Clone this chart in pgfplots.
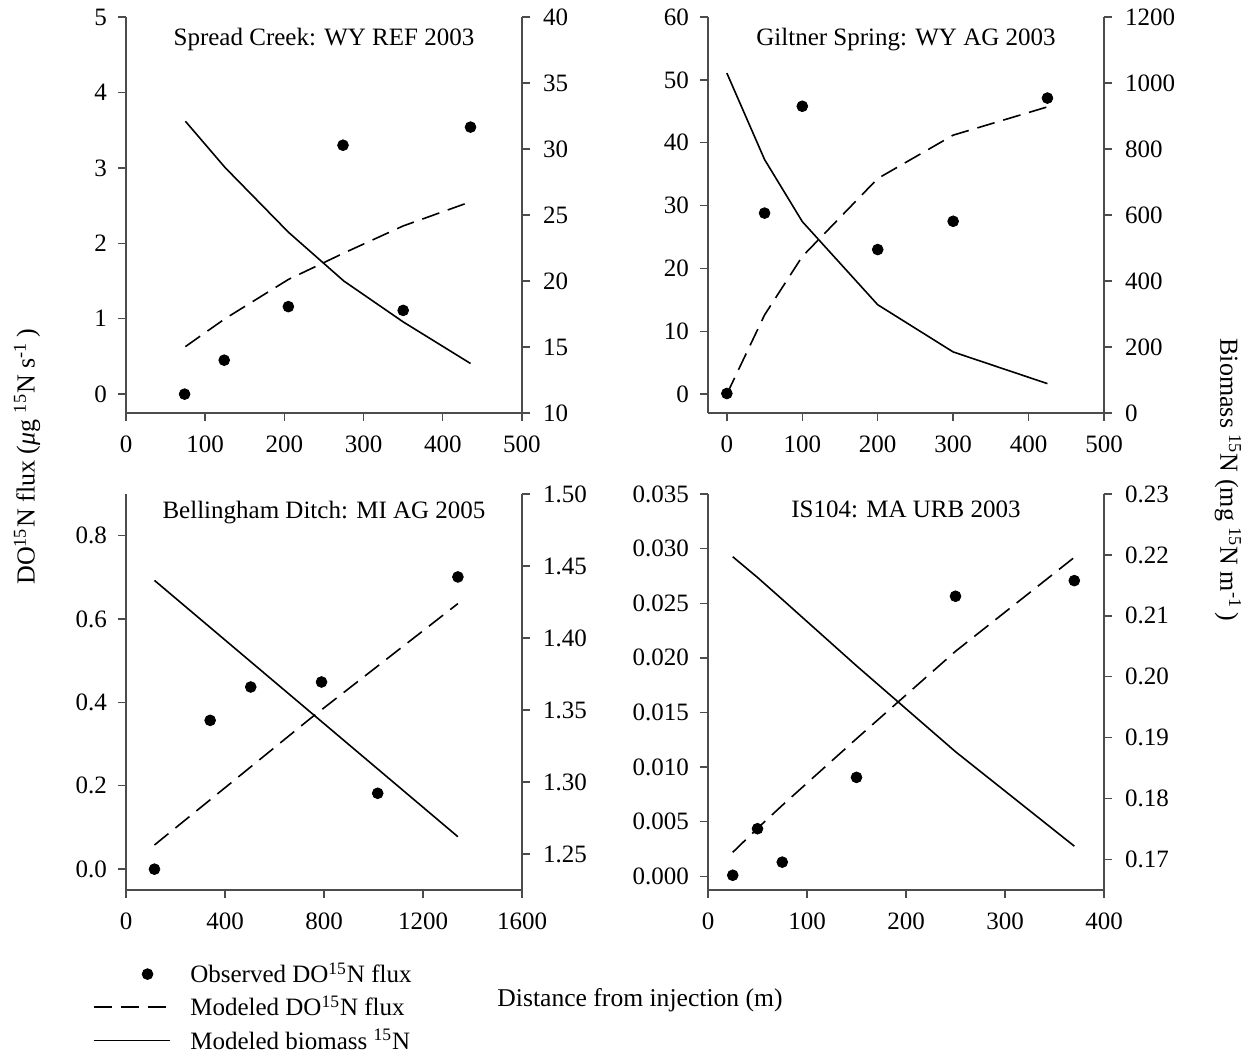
\documentclass[border=0pt]{standalone}
\usepackage{fontspec}
\setmainfont{Liberation Serif}
\usepackage{pgfplots}
\pgfplotsset{compat=1.18}
\definecolor{axgray}{gray}{0.3}
\newcommand\fs{\fontsize{12.5bp}{15bp}\selectfont}
\newcommand\fl{\fontsize{13bp}{16bp}\selectfont}
\pgfplotsset{
  base/.style={scale only axis, width=198bp, height=198bp, anchor=south west,
    tick align=outside, major tick length=4bp,
    tick style={axgray, line width=0.7bp},
    axis line style={axgray, line width=0.8bp},
    tick label style={font=\fs},
    /pgf/number format/assume math mode=true,
    /pgf/number format/1000 sep={},
    scaled ticks=false, clip=false,
    title style={at={(0.5,1)}, anchor=north, yshift=-8bp, font=\fs}},
  lax/.style={base, axis x line*=bottom, axis y line*=left,
    xticklabel style={yshift=-4bp}, yticklabel style={xshift=-2bp}},
  rax/.style={base, axis x line=none, axis y line*=right,
    yticklabel style={xshift=3bp}},
  obs/.style={only marks, mark=*, mark size=2.7bp, black},
  mdl/.style={black, line width=0.8bp, dash pattern=on 9bp off 4.5bp},
  bio/.style={black, line width=0.8bp},
  obsleg/.style={obs, legend image code/.code={\draw[mark repeat=2,mark phase=2,only marks,mark=*,mark size=2.7bp,black] plot coordinates {(0bp,0bp) (27bp,0bp) (38bp,0bp)};}},
}
\begin{document}
\begin{tikzpicture}
\useasboundingbox (0,0) rectangle (625.5bp,527.5bp);
% Panel 1
\begin{axis}[lax, at={(63bp,321bp)}, xmin=0, xmax=500, ymin=-0.25, ymax=5,
  xtick={0,100,200,300,400,500}, ytick={0,1,2,3,4,5},
  title={Spread Creek: WY REF 2003}]
\addplot[obs] coordinates {(74,0.0) (124,0.45) (205,1.16) (274,3.30) (350,1.11) (435,3.54)};
\addplot[mdl] coordinates {(75,0.63) (125,1.0) (205,1.52) (275,1.87) (350,2.23) (435,2.55)};
\end{axis}
\begin{axis}[rax, at={(63bp,321bp)}, xmin=0, xmax=500, ymin=10, ymax=40,
  ytick={10,15,20,25,30,35,40}]
\addplot[bio] coordinates {(75,32.1) (125,28.6) (205,23.7) (275,20.0) (350,16.9) (435,13.75)};
\end{axis}
% Panel 2
\begin{axis}[lax, at={(354bp,321bp)}, xmin=-25, xmax=500, ymin=-3, ymax=60,
  xtick={0,100,200,300,400,500}, ytick={0,10,20,30,40,50,60},
  title={Giltner Spring: WY AG 2003}]
\addplot[obs] coordinates {(0,0.1) (50,28.8) (100,45.8) (200,23.0) (300,27.5) (425,47.1)};
\addplot[mdl] coordinates {(0,0) (50,12.6) (100,21.9) (200,34.3) (300,41.2) (425,45.7)};
\end{axis}
\begin{axis}[rax, at={(354bp,321bp)}, xmin=-25, xmax=500, ymin=0, ymax=1200,
  ytick={0,200,400,600,800,1000,1200}]
\addplot[bio] coordinates {(0,1030) (50,768) (100,580) (200,328) (300,185) (425,89)};
\end{axis}
% Panel 3
\begin{axis}[lax, at={(63bp,82.5bp)}, xmin=0, xmax=1600, ymin=-0.05, ymax=0.9,
  xtick={0,400,800,1200,1600}, ytick={0,0.2,0.4,0.6,0.8},
  yticklabel style={/pgf/number format/.cd, fixed, fixed zerofill, precision=1},
  title={Bellingham Ditch: MI AG 2005}, title style={yshift=2bp},
  legend style={at={(-0.085,-0.172)}, anchor=north west, draw=none, fill=none,
    inner sep=0pt, font=\fs, row sep=1bp, cells={anchor=west},
    /tikz/every odd column/.append style={column sep=8bp}},
  legend image code/.code={\draw[mark repeat=2,mark phase=2,#1] plot coordinates {(0bp,0bp) (19bp,0bp) (38bp,0bp)};}]
\addlegendimage{obsleg}
\addlegendentry{Observed DO\textsuperscript{15}N flux}
\addlegendimage{mdl}
\addlegendentry{Modeled DO\textsuperscript{15}N flux}
\addlegendimage{bio}
\addlegendentry{Modeled biomass \textsuperscript{15}N}
\addplot[obs, forget plot] coordinates {(115,0.0) (340,0.357) (504,0.437) (790,0.449) (1017,0.182) (1341,0.701)};
\addplot[mdl, forget plot] coordinates {(115,0.058) (746,0.362) (1341,0.637)};
\end{axis}
\begin{axis}[rax, at={(63bp,82.5bp)}, xmin=0, xmax=1600, ymin=1.225, ymax=1.5,
  ytick={1.25,1.30,1.35,1.40,1.45,1.50},
  yticklabel style={/pgf/number format/.cd, fixed, fixed zerofill, precision=2}]
\addplot[bio] coordinates {(115,1.440) (1341,1.262)};
\end{axis}
% Panel 4
\begin{axis}[lax, at={(354bp,82.5bp)}, xmin=0, xmax=400, ymin=-0.00125, ymax=0.035,
  xtick={0,100,200,300,400}, ytick={0,0.005,0.010,0.015,0.020,0.025,0.030,0.035},
  yticklabel style={/pgf/number format/.cd, fixed, fixed zerofill, precision=3},
  title={IS104: MA URB 2003}, title style={yshift=2bp}]
\addplot[obs] coordinates {(25,0.0001) (50,0.00436) (75,0.0013) (150,0.00906) (250,0.02564) (370,0.02707)};
\addplot[mdl] coordinates {(25,0.0022) (50,0.0044) (75,0.0065) (150,0.0126) (250,0.0206) (370,0.0292)};
\end{axis}
\begin{axis}[rax, at={(354bp,82.5bp)}, xmin=0, xmax=400, ymin=0.165, ymax=0.23,
  ytick={0.17,0.18,0.19,0.20,0.21,0.22,0.23},
  yticklabel style={/pgf/number format/.cd, fixed, fixed zerofill, precision=2}]
\addplot[bio] coordinates {(25,0.2197) (50,0.2163) (75,0.2127) (150,0.2018) (250,0.1877) (370,0.1722)};
\end{axis}
% Labels
\node[rotate=90] at (13.5bp,299bp) {\fl DO\textsuperscript{15}N flux ({\itshape μ}g \textsuperscript{15}N s\textsuperscript{-1}\,)};
\node[rotate=-90] at (614bp,287.5bp) {\fl Biomass \textsuperscript{15}N (mg \textsuperscript{15}N m\textsuperscript{-1}\,)};
\node at (320bp,27.5bp) {\fontsize{12.8bp}{15bp}\selectfont Distance from injection (m)};
\end{tikzpicture}
\end{document}
